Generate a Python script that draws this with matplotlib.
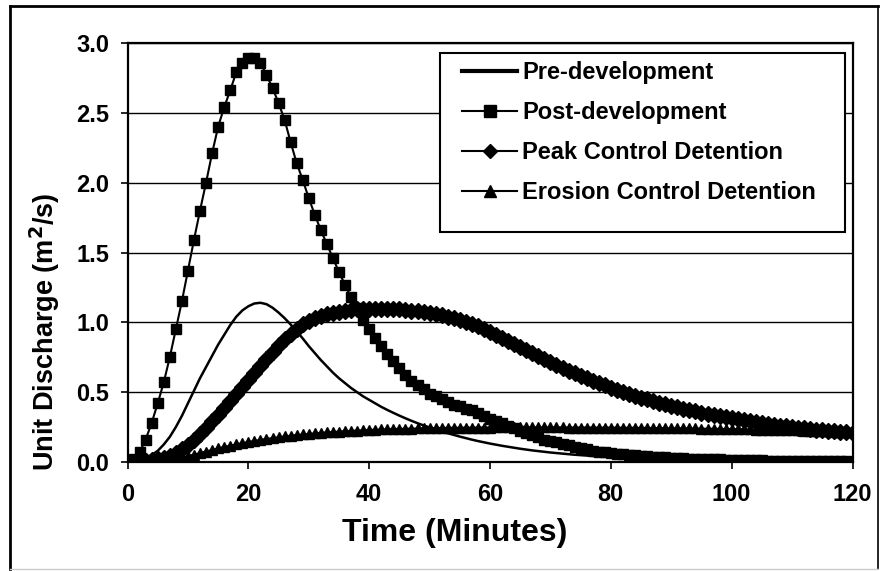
import matplotlib
matplotlib.use("Agg")
import matplotlib.pyplot as plt
from matplotlib.lines import Line2D
from matplotlib.patches import Rectangle

plt.rcParams['font.family'] = ['Liberation Sans', 'DejaVu Sans']
plt.rcParams['font.weight'] = 'bold'
plt.rcParams['mathtext.default'] = 'bf'

time_min = list(range(0, 121))

pre_development = [
    0.0, 0.003, 0.012, 0.027, 0.05, 0.08, 0.125, 0.18, 0.25, 0.33,
    0.42, 0.51, 0.6, 0.68, 0.76, 0.84, 0.91, 0.98, 1.04, 1.085,
    1.115, 1.135, 1.14, 1.13, 1.105, 1.07, 1.03, 0.985, 0.935, 0.885,
    0.83, 0.78, 0.73, 0.685, 0.64, 0.6, 0.565, 0.53, 0.5, 0.47,
    0.445, 0.42, 0.395, 0.373, 0.352, 0.332, 0.313, 0.295, 0.278, 0.262,
    0.247, 0.233, 0.219, 0.206, 0.194, 0.182, 0.171, 0.16, 0.15, 0.141,
    0.132, 0.124, 0.116, 0.109, 0.102, 0.095, 0.089, 0.083, 0.078, 0.073,
    0.068, 0.064, 0.06, 0.056, 0.052, 0.049, 0.046, 0.043, 0.04, 0.037,
    0.035, 0.033, 0.031, 0.029, 0.027, 0.025, 0.023, 0.022, 0.021, 0.019,
    0.018, 0.017, 0.016, 0.015, 0.014, 0.013, 0.012, 0.012, 0.011, 0.01,
    0.01, 0.009, 0.009, 0.008, 0.008, 0.007, 0.007, 0.006, 0.006, 0.006,
    0.005, 0.005, 0.005, 0.004, 0.004, 0.004, 0.003, 0.003, 0.003, 0.003,
    0.002,
]

post_development = [
    0.0, 0.02, 0.07, 0.16, 0.28, 0.42, 0.57, 0.75, 0.95, 1.15,
    1.37, 1.59, 1.8, 2.0, 2.21, 2.4, 2.54, 2.66, 2.79, 2.86,
    2.89, 2.89, 2.86, 2.77, 2.68, 2.57, 2.45, 2.29, 2.14, 2.02,
    1.89, 1.77, 1.66, 1.56, 1.46, 1.36, 1.27, 1.18, 1.1, 1.02,
    0.95, 0.89, 0.83, 0.77, 0.72, 0.67, 0.62, 0.58, 0.55, 0.52,
    0.49, 0.47, 0.45, 0.43, 0.41, 0.4, 0.38, 0.37, 0.35, 0.33,
    0.31, 0.29, 0.28, 0.26, 0.24, 0.22, 0.21, 0.19, 0.18, 0.16,
    0.15, 0.14, 0.13, 0.12, 0.11, 0.1, 0.09, 0.08, 0.075, 0.07,
    0.065, 0.06, 0.055, 0.05, 0.047, 0.044, 0.041, 0.038, 0.035, 0.033,
    0.031, 0.029, 0.027, 0.025, 0.024, 0.022, 0.021, 0.019, 0.018, 0.017,
    0.016, 0.015, 0.014, 0.013, 0.012, 0.011, 0.01, 0.01, 0.009, 0.008,
    0.008, 0.007, 0.007, 0.006, 0.006, 0.005, 0.005, 0.004, 0.004, 0.004,
    0.003,
]

peak_control = [
    0.0, 0.0, 0.005, 0.01, 0.015, 0.02, 0.03, 0.045, 0.065, 0.09,
    0.12, 0.16, 0.2, 0.245, 0.29, 0.34, 0.39, 0.44, 0.49, 0.54,
    0.59, 0.64, 0.69, 0.74, 0.79, 0.835, 0.88, 0.92, 0.955, 0.985,
    1.01, 1.03, 1.045, 1.058, 1.068, 1.076, 1.083, 1.088, 1.092, 1.095,
    1.097, 1.098, 1.098, 1.097, 1.095, 1.092, 1.088, 1.083, 1.078, 1.072,
    1.066, 1.058, 1.05, 1.04, 1.03, 1.018, 1.004, 0.99, 0.972, 0.952,
    0.93, 0.91, 0.888, 0.866, 0.844, 0.822, 0.8, 0.778, 0.756, 0.735,
    0.714, 0.694, 0.674, 0.655, 0.636, 0.618, 0.6, 0.582, 0.565, 0.548,
    0.532, 0.517, 0.502, 0.488, 0.474, 0.461, 0.448, 0.436, 0.424, 0.413,
    0.402, 0.392, 0.382, 0.372, 0.363, 0.354, 0.345, 0.337, 0.329, 0.321,
    0.313, 0.306, 0.299, 0.292, 0.285, 0.279, 0.273, 0.267, 0.261, 0.256,
    0.251, 0.246, 0.241, 0.236, 0.232, 0.228, 0.224, 0.22, 0.216, 0.212,
    0.208,
]

erosion_control = [
    0.0, 0.0, 0.0, 0.002, 0.004, 0.007, 0.011, 0.016, 0.023, 0.032,
    0.042, 0.053, 0.064, 0.075, 0.086, 0.097, 0.107, 0.117, 0.126, 0.135,
    0.143, 0.151, 0.158, 0.165, 0.171, 0.177, 0.183, 0.188, 0.193, 0.197,
    0.201, 0.205, 0.209, 0.212, 0.215, 0.218, 0.221, 0.223, 0.225, 0.227,
    0.229, 0.231, 0.233, 0.234, 0.236, 0.237, 0.238, 0.239, 0.24, 0.241,
    0.242, 0.243, 0.244, 0.244, 0.245, 0.245, 0.246, 0.246, 0.247, 0.247,
    0.247, 0.248, 0.248, 0.248, 0.248, 0.248, 0.248, 0.248, 0.248, 0.248,
    0.248, 0.248, 0.248, 0.247, 0.247, 0.247, 0.247, 0.247, 0.246, 0.246,
    0.246, 0.246, 0.245, 0.245, 0.245, 0.244, 0.244, 0.243, 0.243, 0.242,
    0.242, 0.241, 0.241, 0.24, 0.24, 0.239, 0.238, 0.238, 0.237, 0.236,
    0.236, 0.235, 0.234, 0.233, 0.232, 0.232, 0.231, 0.23, 0.229, 0.228,
    0.227, 0.226, 0.225, 0.223, 0.222, 0.221, 0.219, 0.218, 0.216, 0.214,
    0.212,
]

series_labels = ["Pre-development", "Post-development",
                 "Peak Control Detention", "Erosion Control Detention"]
x_ticks = [0, 20, 40, 60, 80, 100, 120]
y_ticks = [0.0, 0.5, 1.0, 1.5, 2.0, 2.5, 3.0]

W, H = 889, 571
fig = plt.figure(figsize=(W / 100, H / 100), dpi=100)
L, R, T, B = 127.5, 852.5, 43, 462
ax = fig.add_axes([L / W, 1 - B / H, (R - L) / W, (B - T) / H])

ax.plot(time_min, erosion_control, color='black', lw=1.5, marker='^',
        markersize=7.5, zorder=3)
ax.plot(time_min, peak_control, color='black', lw=1.5, marker='D',
        markersize=8, zorder=4)
ax.plot(time_min, post_development, color='black', lw=1.5, marker='s',
        markersize=7.5, zorder=5)
ax.plot(time_min, pre_development, color='black', lw=1.8, zorder=6)

ax.set_xlim(0, 120)
ax.set_ylim(0, 3.0)
ax.set_xticks(x_ticks)
ax.set_yticks(y_ticks)
ax.set_yticklabels([f"{v:.1f}" for v in y_ticks])
ax.yaxis.grid(True, color='black', lw=1.0)
ax.set_axisbelow(True)
for s in ax.spines.values():
    s.set_linewidth(1.6)
ax.tick_params(direction='out', length=5, width=1.2, labelsize=17)
ax.tick_params(axis='x', pad=10)
ax.tick_params(axis='y', pad=8)

ax.set_xlabel("Time (Minutes)", fontsize=23, fontweight='bold')
ax.xaxis.set_label_coords((455 - L) / (R - L), (B - 518) / (B - T))
ax.set_ylabel("Unit Discharge (m$^2$/s)", fontsize=19.5, fontweight='bold')
ax.yaxis.set_label_coords((62 - L) / (R - L), (B - 332) / (B - T))

# legend box (white, covers gridlines)
ax.add_artist(Rectangle((440 / W, 1 - 232 / H), 405 / W, 179 / H,
                        transform=fig.transFigure, facecolor='white',
                        edgecolor='black', lw=1.5, zorder=7, clip_on=False))

handles = [
    Line2D([], [], color='black', lw=3),
    Line2D([], [], color='black', lw=1.5, marker='s', markersize=9),
    Line2D([], [], color='black', lw=1.5, marker='D', markersize=7),
    Line2D([], [], color='black', lw=1.5, marker='^', markersize=8),
]
leg = ax.legend(handles, series_labels, loc='upper left',
                bbox_to_anchor=(462 / W, 1 - 61 / H),
                bbox_transform=fig.transFigure, fontsize=17,
                frameon=False, handlelength=2.35, handletextpad=0.2,
                borderaxespad=0, borderpad=0, labelspacing=0.72,
                numpoints=1)
leg.set_zorder(8)

# outer frame of the figure
fig.add_artist(Line2D([10 / W, 10 / W], [1 - 6 / H, 1 - 569 / H], transform=fig.transFigure, color='black', lw=2))
fig.add_artist(Line2D([10 / W, 878 / W], [1 - 6 / H, 1 - 6 / H], transform=fig.transFigure, color='black', lw=2))
fig.add_artist(Line2D([878 / W, 878 / W], [1 - 6 / H, 1 - 569 / H], transform=fig.transFigure, color='black', lw=1.2))
fig.add_artist(Line2D([10 / W, 878 / W], [1 - 569 / H, 1 - 569 / H], transform=fig.transFigure, color='#cccccc', lw=1))

fig.savefig("out.png", dpi=100)
